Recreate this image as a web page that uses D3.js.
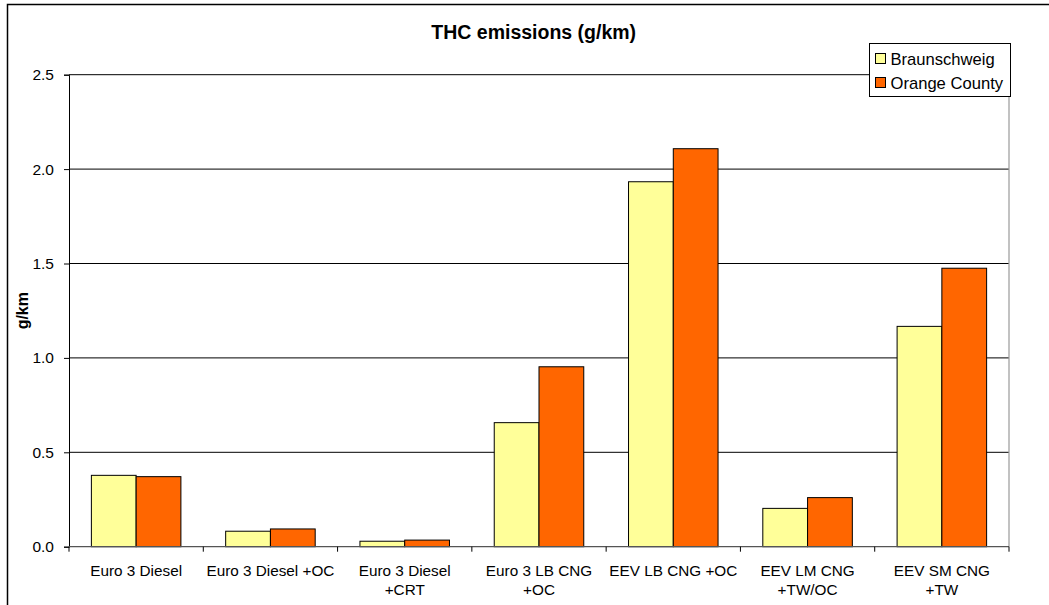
<!DOCTYPE html>
<html>
<head>
<meta charset="utf-8">
<script src="https://cdn.jsdelivr.net/npm/d3@7"></script>
<style>
  html, body { margin: 0; padding: 0; background: #fff; }
  svg { display: block; font-family: "Liberation Sans", Arial, sans-serif; }
</style>
</head>
<body>
<svg id="chart" width="1049" height="605"></svg>
<script>
// Vehicle configurations (each entry is one or two label lines)
const categories = [
  ["Euro 3 Diesel"],
  ["Euro 3 Diesel +OC"],
  ["Euro 3 Diesel", "+CRT"],
  ["Euro 3 LB CNG", "+OC"],
  ["EEV LB CNG +OC"],
  ["EEV LM CNG", "+TW/OC"],
  ["EEV SM CNG", "+TW"]
];
const seriesNames = ["Braunschweig", "Orange County"];
// THC emissions in g/km
const braunschweig = [0.378, 0.082, 0.029, 0.657, 1.933, 0.203, 1.167];
const orangeCounty = [0.371, 0.094, 0.035, 0.953, 2.108, 0.260, 1.475];
const yTicks = [0, 0.5, 1.0, 1.5, 2.0, 2.5];
const seriesColors = ["#FFFF99", "#FF6600"];

const svg = d3.select("#chart");
const plot = { left: 69, right: 1009, top: 74.7, bottom: 546.7 };

// outer chart frame (extends past the right/bottom edge)
svg.append("rect")
  .attr("x", 7.5).attr("y", 4.5)
  .attr("width", 1053).attr("height", 640)
  .attr("fill", "#fff").attr("stroke", "#000").attr("stroke-width", 1.5);

const keys = categories.map((c, i) => i);
const x = d3.scaleBand().domain(keys).range([plot.left, plot.right]).padding(0);
const bw = x.bandwidth();
const xs = d3.scaleBand().domain([0, 1]).range([bw / 6, bw * 5 / 6]).padding(0);
const y = d3.scaleLinear().domain([0, 2.5]).range([plot.bottom, plot.top]);

// horizontal gridlines
svg.append("g").selectAll("line")
  .data(yTicks.filter(d => d > 0))
  .join("line")
  .attr("x1", plot.left).attr("x2", plot.right)
  .attr("y1", d => y(d)).attr("y2", d => y(d))
  .attr("stroke", "#000").attr("stroke-width", 1);

// right border of the plot area
svg.append("line")
  .attr("x1", plot.right).attr("x2", plot.right)
  .attr("y1", plot.top).attr("y2", plot.bottom)
  .attr("stroke", "#999").attr("stroke-width", 1.2);

// bars
const values = [braunschweig, orangeCounty];
values.forEach((vals, s) => {
  svg.append("g").selectAll("rect")
    .data(vals)
    .join("rect")
    .attr("x", (d, i) => x(i) + xs(s))
    .attr("width", xs.bandwidth())
    .attr("y", d => y(d))
    .attr("height", d => y(0) - y(d))
    .attr("fill", seriesColors[s])
    .attr("stroke", "#000").attr("stroke-width", 1);
});

// y axis
const yAxis = d3.axisLeft(y).tickValues(yTicks).tickFormat(d3.format(".1f")).tickSize(5).tickPadding(10);
const gy = svg.append("g").attr("transform", `translate(${plot.left},0)`).call(yAxis);
gy.select(".domain").attr("stroke", "#000");
gy.selectAll(".tick line").attr("stroke", "#000");
gy.selectAll(".tick text").attr("font-size", 15.5).attr("fill", "#000")
  .attr("font-family", "'Liberation Sans', Arial, sans-serif");

// x axis with ticks at category boundaries
const gx = svg.append("g");
gx.append("line")
  .attr("x1", plot.left).attr("x2", plot.right)
  .attr("y1", plot.bottom).attr("y2", plot.bottom)
  .attr("stroke", "#555").attr("stroke-width", 1.3);
gx.selectAll("line.tk")
  .data(keys.concat([keys.length]))
  .join("line").attr("class", "tk")
  .attr("x1", i => i < keys.length ? x(i) : plot.right)
  .attr("x2", i => i < keys.length ? x(i) : plot.right)
  .attr("y1", plot.bottom).attr("y2", plot.bottom + 5)
  .attr("stroke", "#000");
gx.selectAll("text")
  .data(categories)
  .join("text")
  .attr("text-anchor", "middle")
  .attr("font-size", 15.3)
  .attr("fill", "#000")
  .attr("transform", (d, i) => `translate(${x(i) + bw / 2},${plot.bottom + 29})`)
  .each(function (lines) {
    d3.select(this).selectAll("tspan")
      .data(lines)
      .join("tspan")
      .attr("x", 0)
      .attr("dy", (l, j) => j === 0 ? 0 : 19.5)
      .text(l => l);
  });

// y axis title
svg.append("text")
  .attr("transform", `translate(28,${(plot.top + plot.bottom) / 2}) rotate(-90)`)
  .attr("text-anchor", "middle")
  .attr("font-size", 16)
  .attr("font-weight", "bold")
  .text("g/km");

// chart title
svg.append("text")
  .attr("x", 533.7).attr("y", 39)
  .attr("text-anchor", "middle")
  .attr("font-size", 19.5)
  .attr("font-weight", "bold")
  .text("THC emissions (g/km)");

// legend
const lg = svg.append("g");
lg.append("rect")
  .attr("x", 869.5).attr("y", 43.5).attr("width", 141).attr("height", 53)
  .attr("fill", "#fff").attr("stroke", "#000").attr("stroke-width", 1);
seriesNames.forEach((name, i) => {
  lg.append("rect")
    .attr("x", 875.5).attr("y", 53.5 + i * 24).attr("width", 10).attr("height", 10)
    .attr("fill", seriesColors[i]).attr("stroke", "#000");
  lg.append("text")
    .attr("x", 890.5).attr("y", 65 + i * 24)
    .attr("font-size", 16.6)
    .attr("fill", "#000")
    .text(name);
});
</script>
</body>
</html>
